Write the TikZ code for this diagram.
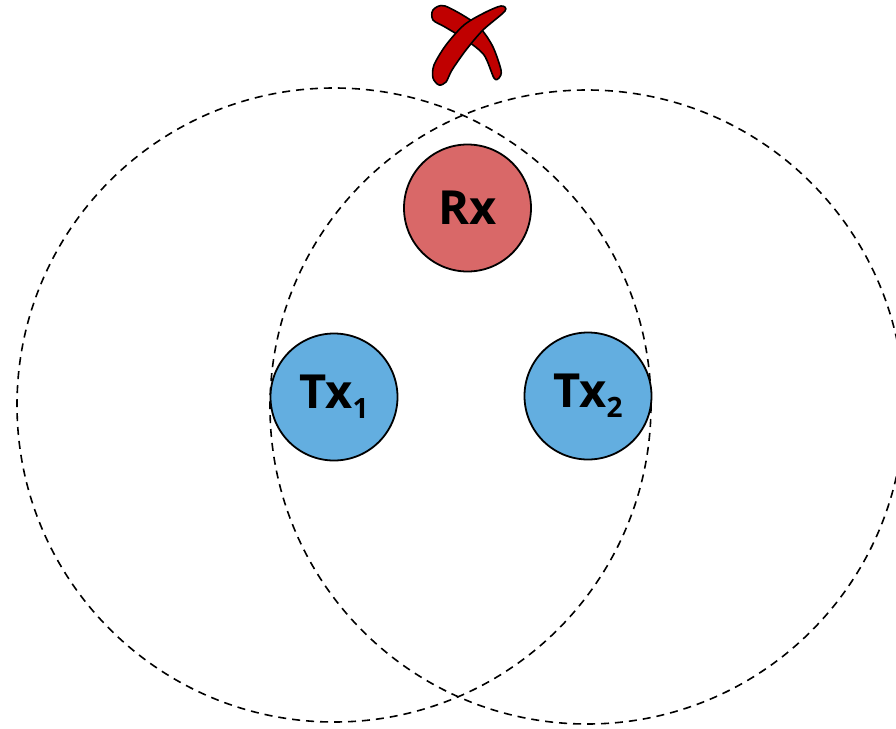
\documentclass[tikz,border=0pt]{standalone}
\usepackage{fontspec}
\setmainfont{Open Sans}
\definecolor{txblue}{HTML}{63AEE0}
\definecolor{rxred}{HTML}{D96868}
\definecolor{xred}{HTML}{C00000}
\begin{document}
\begin{tikzpicture}[x=1pt,y=-1pt,
  rangecirc/.style={draw=black,line width=1.6pt,dash pattern=on 8pt off 6pt},
  station/.style={circle,draw=black,line width=1.8pt,minimum size=127pt,inner sep=0pt,
    font=\fontsize{47}{47}\selectfont\bfseries},
  xstroke/.style={fill=xred,draw=black,line width=1.6pt,line join=round}]
\useasboundingbox (0,0) rectangle (896,728);
\clip (0,0) rectangle (896,728);
\coordinate (c1) at (334,405);
\coordinate (c2) at (587,407);
\draw[rangecirc] (c1) circle[radius=317];
\draw[rangecirc] (c2) circle[radius=317];
\node[station,fill=rxred] (rx) at (467.5,208) {Rx};
\node[station,fill=txblue] (tx1) at (334,397) {Tx\raisebox{-10pt}{\fontsize{28}{28}\selectfont 1}};
\node[station,fill=txblue] (tx2) at (588,396) {Tx\raisebox{-10pt}{\fontsize{28}{28}\selectfont 2}};
% red cross mark
\draw[xstroke] plot[smooth cycle,tension=0.5] coordinates {
  (433,10) (445,6) (476,24) (492,45) (501,70) (499,78)
  (494,78) (484,55) (466,40) (445,27) (433,20)};
\draw[xstroke] plot[smooth cycle,tension=0.5] coordinates {
  (505,11) (483,30) (466,50) (452,70) (446,82) (439,85) (433,78)
  (434,65) (446,45) (464,25) (484,13) (501,6)};
\end{tikzpicture}
\end{document}
